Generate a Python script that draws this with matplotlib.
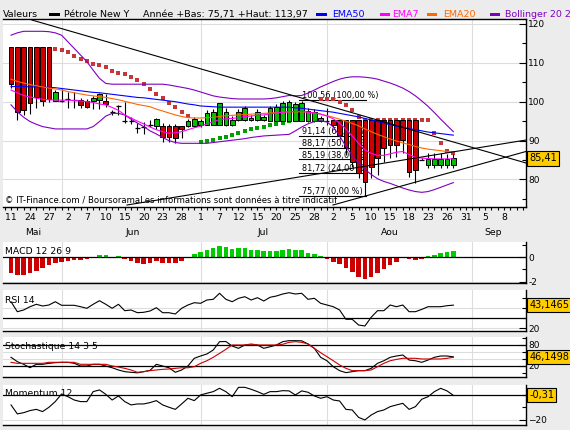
import matplotlib
matplotlib.use("Agg")
import numpy as np
import matplotlib.pyplot as plt
import matplotlib.transforms as mtransforms
from matplotlib.patches import Rectangle

# daily candles, index 0 = first session shown
opens = [113.97, 113.97, 113.97, 113.97, 113.97, 113.97, 113.97, 100.3, 100.3, 100.6,
         100.4, 100.4, 100.3, 100.3, 100.4, 100.2, 97.3, 99.0, 95.1, 95.1,
         93.2, 93.6, 94.0, 93.8, 93.8, 93.8, 93.8, 93.8, 93.8, 93.8,
         94.0, 94.0, 94.0, 94.0, 94.0, 94.0, 95.3, 95.3, 95.3, 95.3,
         95.3, 95.1, 95.1, 95.1, 95.1, 95.1, 95.1, 95.1, 95.1, 95.1,
         95.1, 95.3, 95.3, 95.3, 95.3, 95.3, 95.3, 95.3, 95.3, 95.3,
         95.3, 95.3, 95.3, 95.3, 95.3, 85.1, 83.8, 83.8, 83.8, 83.8, 83.8]
highs = [113.97, 113.97, 113.97, 113.97, 113.97, 113.97, 113.97, 103.0, 103.3, 102.6,
         102.6, 101.0, 100.6, 101.5, 102.2, 102.1, 97.8, 99.2, 100.0, 96.0,
         94.4, 94.9, 95.2, 95.7, 94.4, 94.3, 94.2, 93.8, 95.5, 96.0,
         95.6, 97.8, 98.0, 99.6, 98.3, 96.3, 98.0, 99.0, 96.6, 98.0,
         96.6, 98.9, 99.3, 100.3, 100.56, 100.0, 100.3, 98.4, 98.0, 96.3,
         98.3, 95.3, 95.3, 95.3, 95.3, 95.3, 95.3, 95.3, 95.3, 95.3,
         95.3, 95.3, 95.3, 95.3, 95.3, 85.5, 86.7, 86.7, 86.9, 86.5, 86.6]
lows = [103.4, 95.3, 96.6, 96.8, 98.3, 98.9, 100.0, 100.1, 100.0, 98.5,
        98.5, 98.4, 98.3, 98.1, 98.1, 98.6, 96.5, 96.5, 94.6, 94.3,
        92.0, 91.7, 93.4, 93.1, 89.7, 89.7, 89.3, 90.6, 93.4, 93.4,
        93.6, 94.0, 94.0, 94.0, 93.8, 93.8, 95.0, 95.0, 95.0, 95.0,
        95.0, 95.0, 95.0, 95.0, 95.0, 95.0, 95.0, 94.8, 94.8, 94.8,
        94.0, 93.6, 90.5, 86.2, 83.3, 80.3, 75.77, 80.3, 81.2, 84.6,
        85.4, 85.9, 86.7, 80.7, 79.0, 85.0, 83.0, 82.9, 82.9, 83.0, 82.9]
closes = [104.5, 97.4, 97.8, 99.6, 101.3, 100.3, 100.6, 102.6, 100.3, 100.6,
          100.4, 99.1, 98.6, 100.9, 101.9, 99.4, 97.3, 99.0, 95.1, 95.1,
          93.2, 93.6, 94.0, 95.5, 91.0, 91.0, 90.6, 92.9, 95.0, 95.5,
          95.1, 97.0, 97.4, 99.6, 97.3, 95.3, 97.4, 98.3, 95.7, 97.4,
          96.1, 98.3, 98.6, 99.6, 100.0, 99.4, 99.6, 97.7, 97.4, 95.7,
          95.1, 94.0, 91.4, 88.4, 84.6, 81.6, 79.4, 83.3, 85.4, 88.0,
          88.9, 88.9, 90.2, 82.0, 82.4, 85.1, 85.2, 85.2, 85.3, 85.3, 85.41]

boll_up = [117.1, 117.7, 118.1, 118.1, 118.1, 118.1, 118.0, 117.7, 117.1, 115.4,
           113.7, 112.0, 110.3, 108.1, 106.0, 104.7, 104.5, 104.5, 104.5, 104.5,
           104.5, 104.5, 104.5, 104.5, 104.5, 104.3, 104.0, 103.7, 103.4, 103.0,
           102.5, 102.0, 101.5, 101.2, 101.0, 100.8, 100.7, 100.7, 100.7, 100.7,
           100.7, 100.8, 101.0, 101.3, 101.6, 101.5, 101.6, 102.2, 103.0, 103.8,
           104.5, 105.2, 105.8, 106.2, 106.4, 106.4, 106.3, 106.1, 105.8, 105.3,
           104.8, 104.2, 103.5, 102.6, 101.5, 100.2, 98.8, 97.2, 95.5, 93.9, 92.3]
boll_low = [99.2, 97.4, 96.0, 94.9, 94.2, 93.6, 93.3, 93.0, 93.0, 93.0,
            93.0, 93.0, 93.0, 93.6, 94.9, 96.3, 97.0, 97.0, 96.6, 95.5,
            94.5, 93.6, 92.5, 91.7, 90.8, 90.0, 89.5, 89.3, 89.3, 89.3,
            89.3, 89.3, 89.5, 89.7, 89.9, 90.1, 90.3, 90.5, 90.8, 91.0,
            91.2, 91.3, 91.4, 91.5, 91.6, 92.5, 93.5, 94.3, 94.9, 95.1,
            94.8, 93.5, 91.2, 88.5, 86.2, 84.3, 82.6, 81.3, 80.2, 79.5,
            79.0, 78.4, 77.8, 77.3, 76.9, 76.7, 76.9, 77.4, 78.0, 78.6, 79.2]
ema50 = [103.9, 103.9, 103.9, 103.8, 103.8, 103.7, 103.7, 103.6, 103.4, 103.2,
         103.0, 102.8, 102.6, 102.4, 102.3, 102.1, 101.9, 101.7, 101.5, 101.3,
         101.1, 101.0, 100.8, 100.6, 100.4, 100.2, 100.0, 99.7, 99.4, 99.2,
         98.9, 98.8, 98.7, 98.6, 98.6, 98.6, 98.6, 98.6, 98.6, 98.6,
         98.6, 98.6, 98.6, 98.6, 98.6, 98.4, 98.3, 98.1, 97.9, 97.7,
         97.5, 97.3, 97.0, 96.7, 96.4, 96.1, 95.7, 95.3, 94.9, 94.5,
         94.1, 93.7, 93.4, 93.1, 92.8, 92.5, 92.2, 92.0, 91.8, 91.6, 91.4]
ema20 = [105.8, 105.2, 104.8, 104.4, 104.1, 103.8, 103.5, 103.3, 103.0, 102.6,
         102.3, 102.0, 101.7, 101.5, 101.3, 101.1, 100.8, 100.5, 100.1, 99.7,
         99.3, 99.0, 98.7, 98.1, 97.6, 97.1, 96.6, 96.2, 95.9, 95.8,
         95.8, 95.9, 96.0, 96.2, 96.4, 96.5, 96.6, 96.7, 96.8, 96.9,
         97.0, 97.1, 97.2, 97.3, 97.4, 97.4, 97.4, 97.3, 97.1, 96.8,
         96.4, 96.0, 95.5, 95.0, 94.4, 93.8, 93.0, 92.3, 91.6, 91.0,
         90.4, 89.9, 89.4, 89.0, 88.5, 88.1, 87.8, 87.6, 87.4, 87.2, 87.1]
ema7 = [103.0, 102.3, 101.6, 101.2, 100.9, 100.6, 100.5, 100.4, 100.4, 100.4,
        100.3, 100.2, 100.0, 99.8, 99.4, 99.2, 98.5, 97.8, 96.6, 95.8,
        95.0, 94.3, 93.5, 92.8, 92.3, 91.9, 92.0, 92.3, 92.8, 93.3,
        93.7, 94.3, 94.9, 95.4, 95.6, 95.7, 95.9, 96.2, 96.3, 96.5,
        96.6, 96.9, 97.1, 97.3, 97.4, 97.5, 97.5, 97.3, 97.1, 96.8,
        96.3, 95.6, 94.5, 93.0, 91.2, 89.3, 87.6, 86.7, 86.2, 86.2,
        86.6, 87.0, 87.2, 86.4, 85.7, 85.5, 85.4, 85.3, 85.3, 85.3, 85.3]

sar_red_idx = list(range(7, 29)) + list(range(49, 71))
sar_red = [113.5, 113.2, 112.7, 111.8, 111.1, 110.5, 109.8, 109.4, 108.8, 108.0,
           107.5, 107.0, 106.3, 105.6, 104.5, 103.2, 102.0, 100.9, 99.7, 98.6,
           97.4, 96.3,
           100.6, 100.6, 100.6, 100.0, 99.2, 97.8, 96.1, 95.3, 95.3, 95.3,
           95.3, 95.3, 95.3, 95.3, 95.3, 95.3, 95.3, 95.3, 92.0, 89.5, 87.3, 86.9]
sar_green_idx = list(range(30, 45))
sar_green = [89.6, 89.8, 90.2, 90.6, 91.0, 91.5, 92.0, 92.4, 92.9, 93.2,
             93.6, 93.9, 94.2, 94.6, 95.0]

# trend lines: (index, price) end points
trend_lines = [((3.3, 121.0), (81.5, 84.24)),
               ((18.35, 73.44), (81.5, 90.15)),
               ((50.95, 73.44), (81.5, 87.2))]
fib_levels = [100.56, 91.14, 88.17, 85.19, 81.72, 75.77]
fib_labels = ['100,56 (100,00 %)', '91,14 (62,00 %)', '88,17 (50,00 %)',
              '85,19 (38,00 %)', '81,72 (24,00 %)', '75,77 (0,00 %)']
fib_span = (45.6, 56.2)

macd = [-1.26, -1.48, -1.48, -1.31, -1.10, -0.90, -0.66, -0.44, -0.38, -0.30,
        -0.22, -0.19, -0.16, 0.0, 0.19, 0.19, 0.0, 0.14, -0.16, -0.27,
        -0.44, -0.55, -0.44, -0.27, -0.44, -0.44, -0.44, -0.27, 0.0, 0.27,
        0.41, 0.60, 0.74, 0.93, 0.87, 0.68, 0.79, 0.79, 0.60, 0.60,
        0.52, 0.52, 0.52, 0.60, 0.68, 0.60, 0.60, 0.38, 0.27, 0.14,
        -0.16, -0.35, -0.55, -0.90, -1.17, -1.58, -1.80, -1.64, -1.31, -0.98,
        -0.63, -0.35, -0.08, -0.16, -0.22, -0.14, 0.11, 0.19, 0.38, 0.46, 0.55]
rsi = [46.6, 36.6, 38.3, 41.6, 44.0, 42.3, 43.3, 46.6, 43.0, 43.0,
       43.0, 41.6, 40.0, 44.0, 47.6, 44.0, 40.0, 44.0, 37.6, 38.3,
       35.6, 36.0, 37.3, 40.6, 35.6, 35.6, 34.3, 40.0, 43.3, 45.6,
       45.0, 48.3, 49.0, 55.0, 49.0, 46.6, 50.0, 51.6, 48.3, 50.6,
       47.3, 51.0, 52.3, 54.3, 55.6, 54.3, 55.0, 49.0, 50.0, 45.0,
       43.3, 41.6, 38.3, 29.0, 29.0, 23.3, 22.3, 31.0, 37.6, 37.6,
       43.3, 41.6, 43.3, 36.6, 36.6, 38.9, 41.6, 41.6, 41.6, 42.6, 43.1465]
stoch_k = [44.8, 32.4, 24.8, 15.2, 24.8, 24.8, 27.6, 29.5, 30.5, 30.5,
           27.6, 20.0, 20.0, 24.8, 24.8, 20.0, 15.0, 8.6, 3.8, 2.0,
           0.5, 3.8, 7.6, 24.8, 20.0, 15.0, 2.0, 8.6, 20.0, 42.0,
           48.6, 54.3, 65.7, 89.5, 90.0, 77.0, 70.5, 80.0, 80.0, 80.0,
           70.5, 75.0, 80.0, 89.5, 92.4, 92.4, 92.0, 83.0, 70.5, 44.8,
           35.0, 18.0, 6.7, 1.0, 3.8, 6.7, 6.7, 13.3, 27.6, 35.0,
           44.8, 48.6, 51.4, 37.0, 35.0, 30.5, 37.0, 44.8, 48.6, 48.6, 46.1498]
stoch_d = [30.5, 27.6, 27.6, 27.6, 27.6, 27.6, 30.5, 30.5, 30.5, 30.5,
           30.5, 24.8, 24.8, 24.8, 24.8, 24.8, 20.0, 17.0, 13.3, 8.6,
           2.0, 3.8, 6.7, 8.6, 10.5, 11.4, 13.3, 15.0, 15.0, 18.0,
           27.6, 35.0, 44.8, 56.0, 67.6, 80.0, 80.0, 80.0, 83.0, 80.0,
           80.0, 80.0, 80.0, 82.0, 87.6, 89.5, 87.6, 83.0, 70.5, 58.0,
           46.7, 35.0, 22.9, 13.3, 6.7, 6.7, 6.7, 8.6, 18.0, 27.6,
           35.0, 38.8, 42.0, 42.0, 42.0, 40.0, 40.0, 40.0, 40.0, 42.0, 44.8]
momentum = [-8.1, -15.4, -14.4, -12.7, -11.7, -13.5, -10.0, -5.4, 0.8, -1.4,
            -4.1, -5.4, -5.4, 2.7, 4.1, 0.5, -4.1, -0.8, -5.4, -8.1,
            -7.3, -7.3, -6.2, -4.6, -8.1, -10.0, -11.7, -7.3, -2.7, -4.6,
            0.0, 1.4, 2.7, 5.4, 2.7, -1.4, 6.2, 6.2, 4.6, 2.7,
            0.5, 2.7, 2.7, 3.5, 3.3, 0.0, 3.3, 2.2, -0.8, -2.7,
            -1.4, -4.1, -4.9, -11.7, -12.2, -18.2, -20.3, -16.3, -13.5, -12.2,
            -9.5, -8.1, -6.8, -11.7, -9.5, -3.5, -1.4, 2.7, 5.4, 3.3, -0.31]

date_labels = ['11', '24', '27', '2', '7', '10', '15', '20', '23', '28', '1', '7', '12', '15',
               '20', '25', '28', '2', '5', '10', '15', '18', '23', '26', '31', '5', '8']
months = ['Mai', 'Jun', 'Jul', 'Aou', 'Sep']
month_pos = [3.5, 19.3, 39.9, 60.0, 76.3]
month_grid = [8, 30, 50, 73]

W, H = 570, 430
BG = '#ECECEC'
GRID = '#DDDDDD'
RED = '#CC0000'
GREEN = '#00C000'
XMIN, XMAX = -1.27, 81.5
FONT = 6.7

fig = plt.figure(figsize=(W / 100, H / 100), dpi=100, facecolor=BG)


def panel(top, bottom, left=3, right=526):
    return fig.add_axes([left / W, 1 - bottom / H, (right - left) / W, (bottom - top) / H])


def base_style(ax, ylim):
    ax.set_xlim(XMIN, XMAX)
    ax.set_ylim(*ylim)
    ax.set_facecolor('white')
    ax.spines['left'].set_visible(False)
    for s in ['right', 'bottom', 'top']:
        ax.spines[s].set_linewidth(1.0)
    ax.yaxis.tick_right()
    ax.tick_params(axis='y', which='major', direction='in', length=5, width=0.8,
                   pad=1.5, labelsize=6.5)
    ax.tick_params(axis='y', which='minor', direction='in', length=3, width=0.8)
    for gx in month_grid:
        ax.axvline(gx, color=GRID, lw=0.8, zorder=0)


def value_box(ax, y, text):
    tr = mtransforms.blended_transform_factory(ax.transAxes, ax.transData)
    ax.text(1.006, y, text, transform=tr, fontsize=7, ha='left', va='center',
            clip_on=False, zorder=10,
            bbox=dict(boxstyle='square,pad=0.22', fc='#FFCC00', ec='black', lw=0.8))


idx = np.arange(len(closes))
o = np.array(opens)
c = np.array(closes)

# ---- main price panel
ax = panel(19, 207)
base_style(ax, (72.93, 121.26))
ax.set_yticks([80, 90, 100, 110, 120])
ax.set_yticks([75, 85, 95, 105, 115], minor=True)
for gy in [80, 90, 100, 110, 120]:
    ax.axhline(gy, color=GRID, lw=0.8, zorder=0)

ax.set_xticks(np.arange(0, 79, 3))
ax.set_xticklabels(date_labels)
ax.set_xticks(np.arange(-1, 82), minor=True)
ax.tick_params(axis='x', which='both', direction='out', length=2.5, width=0.8,
               pad=1.5, labelsize=FONT)
trx = mtransforms.blended_transform_factory(ax.transData, ax.transAxes)
for m, mp in zip(months, month_pos):
    ax.text(mp, -0.138, m, transform=trx, fontsize=FONT, ha='center', va='center')

# fibonacci levels
for lvl, lab in zip(fib_levels, fib_labels):
    ax.plot(fib_span, [lvl, lvl], color='black', lw=0.8, zorder=2)
    ax.text(fib_span[0] + 0.4, lvl + 0.45, lab, fontsize=5.9, ha='left',
            va='baseline', zorder=2)

# SAR dots
ax.scatter(sar_red_idx, sar_red, marker='s', s=6, color='#C83737', lw=0, zorder=2.5)
ax.scatter(sar_green_idx, sar_green, marker='s', s=6, color='#00A000', lw=0, zorder=2.5)

# candles
ax.vlines(idx, lows, highs, color='black', lw=0.8, zorder=3)
doji = np.abs(c - o) < 0.05
body = ~doji
up = c > o
ax.bar(idx[body], np.abs(c - o)[body], bottom=np.minimum(o, c)[body], width=0.74,
       color=np.where(up, GREEN, RED)[body], edgecolor='black', lw=0.7, zorder=4)
ax.hlines(c[doji], idx[doji] - 0.4, idx[doji] + 0.4, color='black', lw=0.9, zorder=4)

# indicator lines
ax.plot(idx, boll_up, color='#8000C0', lw=0.8, zorder=5)
ax.plot(idx, boll_low, color='#8000C0', lw=0.8, zorder=5)
ax.plot(idx, ema50, color='#0000FF', lw=0.8, zorder=5)
ax.plot(idx, ema20, color='#FF6600', lw=0.8, zorder=5)
ax.plot(idx, ema7, color='#FF00FF', lw=0.8, zorder=5)
for (x0, y0), (x1, y1) in trend_lines:
    ax.plot([x0, x1], [y0, y1], color='black', lw=0.8, zorder=6)

ax.text(0.004, 0.034, '\u00a9 IT-Finance.com / BoursoramaLes informations sont donn\u00e9es \u00e0 titre indicatif',
        transform=ax.transAxes, fontsize=6.1, ha='left', va='center', zorder=2)
value_box(ax, closes[-1], '85,41')

# ---- header
hy = 1 - 17.3 / H
fig.text(3 / W, hy, 'Valeurs', fontsize=6.8, va='baseline')
fig.text(64 / W, hy, 'P\u00e9trole New Y', fontsize=6.8, va='baseline')
fig.text(143 / W, hy, 'Ann\u00e9e +Bas: 75,71 +Haut: 113,97', fontsize=6.8, va='baseline')
legend_items = [(49, 60, 'black', None, None),
                (316, 327, '#0000FF', 332, 'EMA50'),
                (380, 390, '#FF00FF', 392, 'EMA7'),
                (427, 437, '#FF6600', 443, 'EMA20'),
                (490, 500, '#8000C0', 505, 'Bollinger 20 2')]
for x0, x1, col, tx, lab in legend_items:
    fig.patches.append(Rectangle((x0 / W, 1 - 16 / H), (x1 - x0) / W, 3.2 / H,
                                 transform=fig.transFigure, color=col, lw=0))
    if lab:
        fig.text(tx / W, hy, lab, fontsize=6.8, va='baseline', color=col)

# ---- MACD
ax1 = panel(242, 283)
base_style(ax1, (-2.11, 1.25))
ax1.tick_params(axis='x', bottom=False, labelbottom=False)
ax1.set_yticks([-2, 0])
ax1.set_yticklabels(['-2', '0'])
ax1.set_yticks([-1, 1], minor=True)
ax1.axhline(-2, color=GRID, lw=0.8, zorder=0)
m = np.array(macd)
ax1.bar(idx, m, width=0.72, color=np.where(m >= 0, '#00CC00', RED), lw=0, zorder=2)
ax1.axhline(0, color='black', lw=0.9, zorder=3)
ax1.text(0.004, 0.76, 'MACD 12 26 9', transform=ax1.transAxes, fontsize=FONT,
         va='center', zorder=4)

# ---- RSI
ax2 = panel(290, 330.5)
base_style(ax2, (17.8, 58.3))
ax2.tick_params(axis='x', bottom=False, labelbottom=False)
ax2.set_yticks([20])
ax2.set_yticks([30, 40, 50], minor=True)
for gy in [20, 40]:
    ax2.axhline(gy, color=GRID, lw=0.8, zorder=0)
ax2.axhline(30, color='black', lw=0.9, zorder=1)
ax2.plot(idx, rsi, color='black', lw=0.8, zorder=3)
ax2.text(0.004, 0.75, 'RSI 14', transform=ax2.transAxes, fontsize=FONT, va='center', zorder=4)
value_box(ax2, rsi[-1], '43,1465')

# ---- Stochastic
ax3 = panel(337.3, 377.3)
base_style(ax3, (-12.3, 102))
ax3.tick_params(axis='x', bottom=False, labelbottom=False)
ax3.set_yticks([20, 80])
ax3.set_yticks([0, 40, 60, 100], minor=True)
for gy in [40, 60]:
    ax3.axhline(gy, color=GRID, lw=0.8, zorder=0)
ax3.axhline(20, color='black', lw=0.9, zorder=1)
ax3.axhline(80, color='black', lw=0.9, zorder=1)
ax3.plot(idx, stoch_k, color='black', lw=0.8, zorder=3)
ax3.plot(idx, stoch_d, color=RED, lw=0.8, zorder=3)
ax3.text(0.004, 0.765, 'Stochastique 14 3 5', transform=ax3.transAxes, fontsize=FONT,
         va='center', zorder=4)
value_box(ax3, stoch_k[-1], '46,1498')

# ---- Momentum
ax4 = panel(384.5, 424.5)
base_style(ax4, (-24, 8.5))
ax4.tick_params(axis='x', bottom=False, labelbottom=False)
ax4.set_yticks([-20])
ax4.set_yticks([-10, 0], minor=True)
ax4.axhline(-20, color=GRID, lw=0.8, zorder=0)
ax4.axhline(0, color='black', lw=0.9, zorder=1)
ax4.plot(idx, momentum, color='black', lw=0.8, zorder=3)
ax4.text(0.004, 0.78, 'Momentum 12', transform=ax4.transAxes, fontsize=FONT,
         va='center', zorder=4)
value_box(ax4, momentum[-1], '-0,31')

for a in [ax1, ax2, ax3, ax4]:
    a.spines['top'].set_visible(False)

fig.savefig('out.png', dpi=100, facecolor=BG)
